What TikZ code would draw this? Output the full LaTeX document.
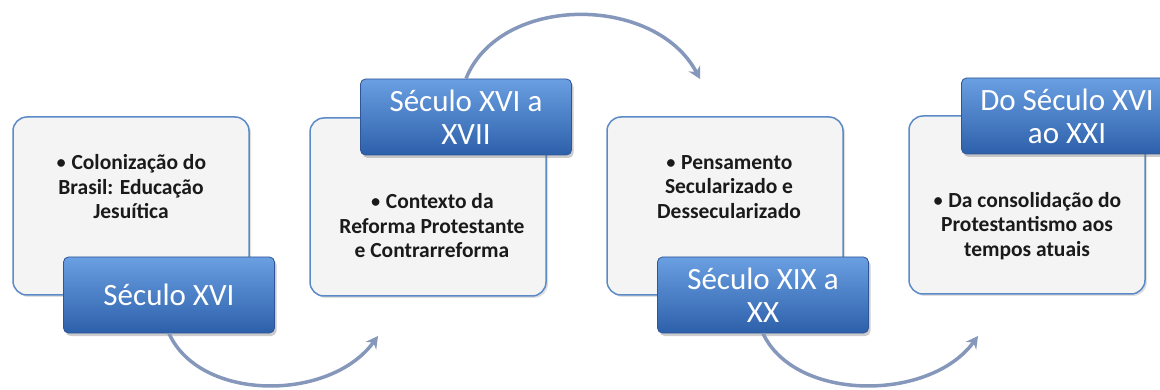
\documentclass[tikz,border=0pt]{standalone}
\usepackage{fontspec}
\setmainfont{Carlito}
\usetikzlibrary{shadows,arrows.meta}
\definecolor{boxfill}{HTML}{F4F4F4}
\definecolor{boxline}{HTML}{5B8AC6}
\definecolor{tagtop}{HTML}{6A9FE2}
\definecolor{tagbot}{HTML}{2D60AA}
\definecolor{tagline}{HTML}{2F5597}
\definecolor{arrc}{HTML}{8598BC}
\definecolor{txtc}{HTML}{1A1A1A}
\newcommand{\bul}{{\mdseries\textbullet}~}

\begin{document}
\begin{tikzpicture}[x=1pt, y=-1pt,
        box/.style={
          draw=boxline, line width=1.5pt, fill=boxfill,
          rounded corners=14pt,
          minimum width=236pt, minimum height=178pt,
          drop shadow={opacity=0.25, shadow xshift=2pt, shadow yshift=-2pt},
        },
        tag/.style={
          draw=tagline, line width=0.8pt,
          top color=tagtop, bottom color=tagbot,
          rounded corners=5pt, text=white,
          minimum width=211pt, minimum height=76pt, align=center,
          font=\fontsize{31}{33}\selectfont,
          drop shadow={opacity=0.4, shadow xshift=2pt, shadow yshift=-3pt},
        },
        txt/.style={font=\fontsize{21.5}{24.5}\selectfont\bfseries, text=txtc, align=center},
        arr/.style={draw=arrc, line width=3.5pt,
          -{Stealth[length=12pt, width=13pt, inset=4pt]}},
      ]
      \useasboundingbox (0,0) rectangle (1160,390);

      \node[box] (b1) at (131,206) {};
      \node[box] (b2) at (428,207) {};
      \node[box] (b3) at (725,206) {};
      \node[box] (b4) at (1027,205) {};

      \node[txt] (x1) at (131,187) {\bul Colonização do\\Brasil: Educação\\Jesuítica};
      \node[txt] (x2) at (432,226) {\bul Contexto da\\Reforma Protestante\\e Contrarreforma};
      \node[txt] (x3) at (729,187) {\bul Pensamento\\Secularizado e\\Dessecularizado};
      \node[txt] (x4) at (1027,226) {\bul Da consolidação do\\Protestantismo aos\\tempos atuais};

      \node[tag] (l1) at (169,295) {Século XVI};
      \node[tag] (l2) at (466,117) {Século XVI a\\XVII};
      \node[tag] (l3) at (763,295) {Século XIX a\\XX};
      \node[tag] (l4) at (1067,116) {Do Século XVI\\ao XXI};

      \coordinate (e1) at (378,336);
      \coordinate (e2) at (700,79);
      \coordinate (e3) at (978,336);

      \draw[arr] (l1.south) .. controls (200,402) and (330,402) .. (e1);
      \draw[arr] (l2.north) .. controls (500,-6) and (655,-6) .. (e2);
      \draw[arr] (l3.south) .. controls (795,402) and (930,402) .. (e3);
    \end{tikzpicture}
\end{document}
